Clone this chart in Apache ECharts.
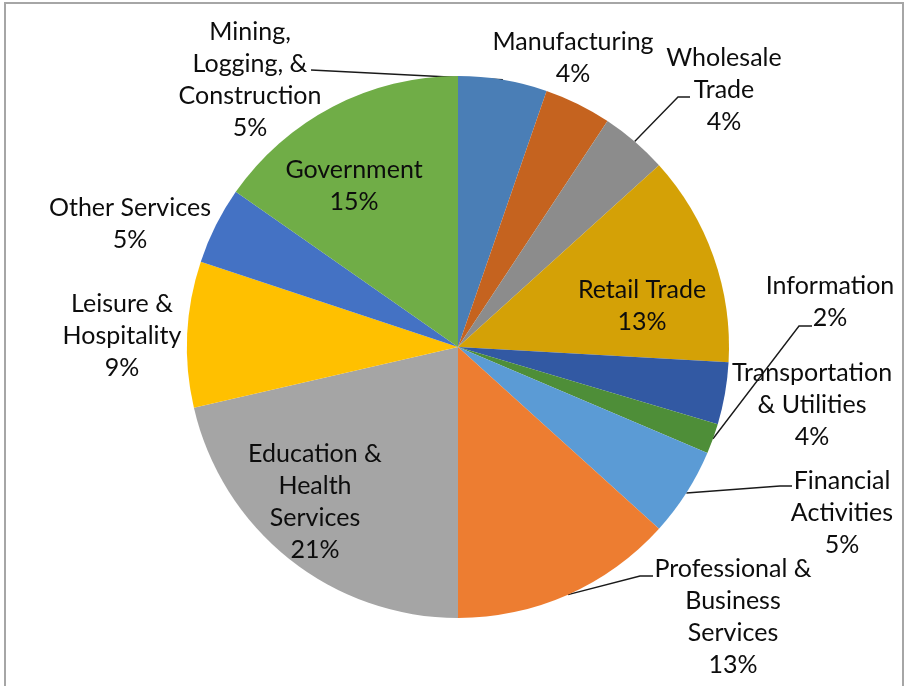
<!DOCTYPE html>
<html>
<head>
<meta charset="utf-8">
<script src="https://cdn.jsdelivr.net/npm/echarts@6/dist/echarts.min.js"></script>
<style>
  html, body { margin: 0; padding: 0; background: #ffffff; }
  #chart { width: 907px; height: 686px; }
</style>
</head>
<body>
<div id="chart"></div>
<script>
// Industry shares of employment, clockwise from 12 o'clock
const categories = [
  'Mining, Logging, & Construction',
  'Manufacturing',
  'Wholesale Trade',
  'Retail Trade',
  'Transportation & Utilities',
  'Information',
  'Financial Activities',
  'Professional & Business Services',
  'Education & Health Services',
  'Leisure & Hospitality',
  'Other Services',
  'Government'
];
const shares = [5.3, 4.0, 4.0, 12.6, 3.7, 1.8, 5.3, 13.3, 21.4, 8.7, 4.6, 15.3];

// Slice colours, in the same order
const sliceColors = [
  '#4A7EB6', '#C5631F', '#8C8C8C', '#D4A106', '#3259A3', '#4E8E38',
  '#5B9BD5', '#ED7D31', '#A5A5A5', '#FFC000', '#4472C4', '#70AD47'
];

// How each category name is broken over lines in its label
const labelLines = {
  'Mining, Logging, & Construction': ['Mining,', 'Logging, &', 'Construction'],
  'Manufacturing': ['Manufacturing'],
  'Wholesale Trade': ['Wholesale', 'Trade'],
  'Retail Trade': ['Retail Trade'],
  'Transportation & Utilities': ['Transportation', '& Utilities'],
  'Information': ['Information'],
  'Financial Activities': ['Financial', 'Activities'],
  'Professional & Business Services': ['Professional &', 'Business', 'Services'],
  'Education & Health Services': ['Education &', 'Health', 'Services'],
  'Leisure & Hospitality': ['Leisure &', 'Hospitality'],
  'Other Services': ['Other Services'],
  'Government': ['Government']
};

// Label placement: text centre, and for leader lines the elbow and end points
const labelPlacement = {
  'Mining, Logging, & Construction': { at: [250, 80], line: [[311, 70], [311, 70]] },
  'Manufacturing': { at: [573, 58] },
  'Wholesale Trade': { at: [724, 90], line: [[678, 97], [690, 97]] },
  'Retail Trade': { at: [642, 306] },
  'Transportation & Utilities': { at: [812, 405] },
  'Information': { at: [830, 302], line: [[799, 326], [812, 326]] },
  'Financial Activities': { at: [842, 513], line: [[780, 486], [792, 486]] },
  'Professional & Business Services': { at: [733, 617], line: [[640, 576], [653, 576]] },
  'Education & Health Services': { at: [315, 502] },
  'Leisure & Hospitality': { at: [122, 336] },
  'Other Services': { at: [130, 224] },
  'Government': { at: [354, 186] }
};

const chart = echarts.init(document.getElementById('chart'), null, { renderer: 'canvas' });

const seriesData = categories.map((name, i) => ({
  name: name,
  value: shares[i],
  itemStyle: { color: sliceColors[i] },
  labelLine: { show: !!labelPlacement[name].line }
}));

chart.setOption({
  backgroundColor: '#ffffff',
  animation: false,
  graphic: [{
    type: 'rect',
    shape: { x: 5, y: 3, width: 898, height: 720 },
    style: { fill: 'none', stroke: '#A6A6A6', lineWidth: 2 },
    silent: true
  }],
  series: [{
    type: 'pie',
    center: [458, 347],
    radius: 271,
    startAngle: 90,
    clockwise: true,
    avoidLabelOverlap: false,
    itemStyle: { borderWidth: 0 },
    label: {
      show: true,
      position: 'outside',
      width: 240,
      overflow: 'none',
      fontFamily: 'Lato',
      fontSize: 25,
      lineHeight: 32,
      color: '#0D0D0D',
      align: 'center',
      formatter: (p) => labelLines[p.name].concat(Math.round(p.percent) + '%').join('\n')
    },
    labelLine: {
      show: true,
      lineStyle: { color: '#1A1A1A', width: 1.4 }
    },
    labelLayout: (params) => {
      const name = categories[params.dataIndex];
      const place = labelPlacement[name];
      const out = {
        x: place.at[0],
        y: place.at[1],
        align: 'center',
        verticalAlign: 'middle'
      };
      if (place.line && params.labelLinePoints) {
        out.labelLinePoints = [params.labelLinePoints[0], place.line[0], place.line[1]];
      }
      return out;
    },
    data: seriesData
  }]
});
</script>
</body>
</html>
